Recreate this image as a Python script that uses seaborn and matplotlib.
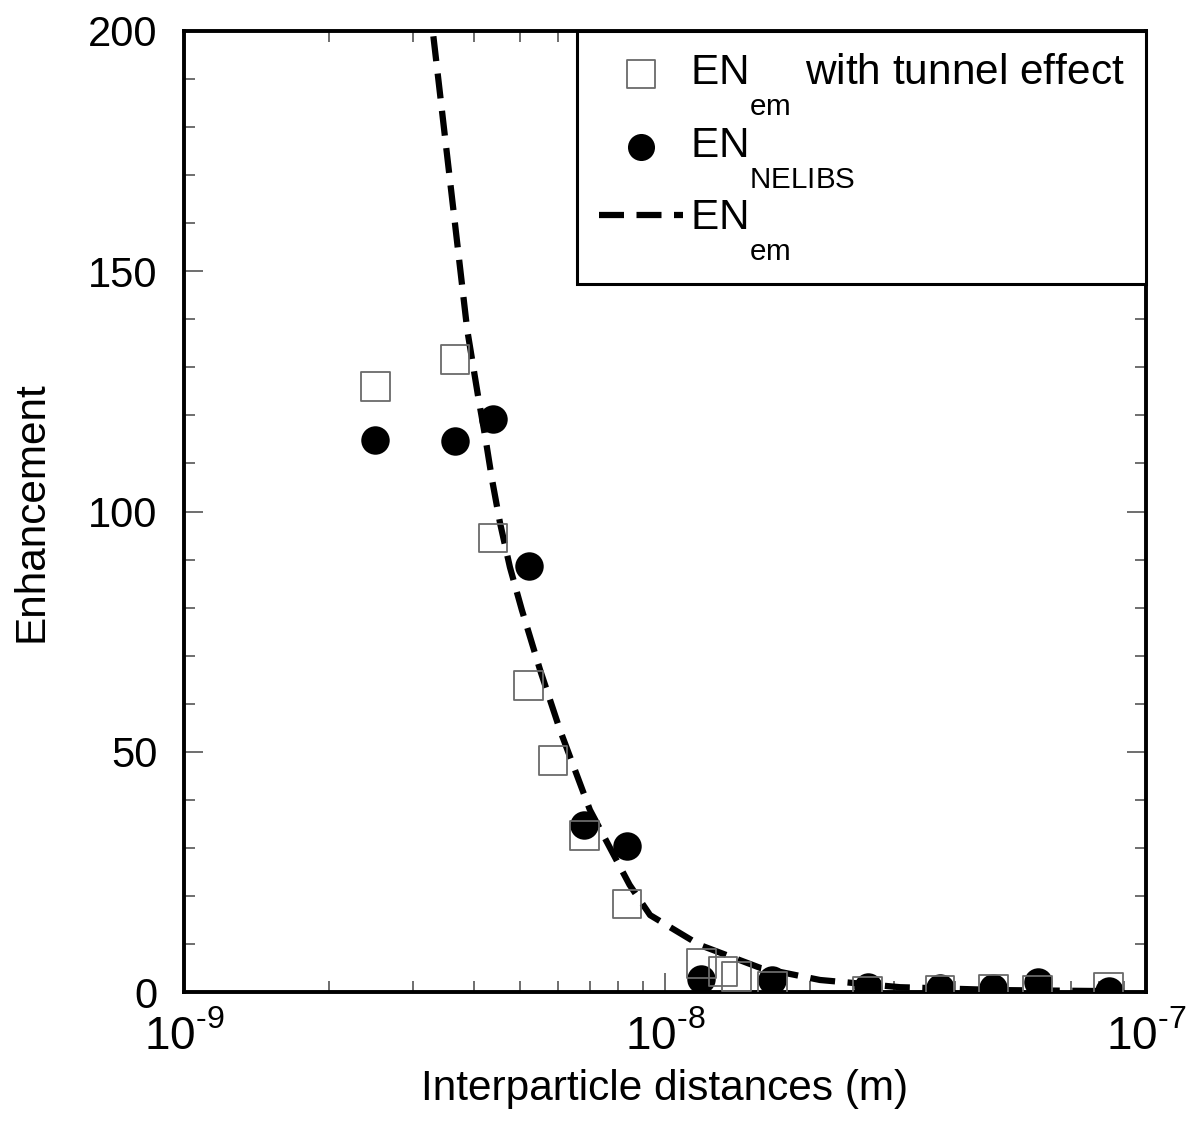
import matplotlib
matplotlib.use("Agg")
import matplotlib.pyplot as plt
import seaborn as sns
import numpy as np
import pandas as pd
from matplotlib.ticker import LogLocator, MultipleLocator, FixedLocator, FixedFormatter, NullFormatter
from matplotlib import _mathtext

# ---- data ----
sq_x = [2.50e-9, 3.66e-9, 4.39e-9, 5.21e-9, 5.85e-9, 6.79e-9, 8.34e-9, 1.19e-8,
        1.32e-8, 1.41e-8, 1.67e-8, 2.64e-8, 3.73e-8, 4.81e-8, 5.96e-8, 8.37e-8]
sq_y = [126.0, 131.7, 94.5, 63.8, 48.1, 32.5, 18.3, 6.0,
        4.2, 3.3, 1.2, 0.2, 0.4, 0.6, 0.4, 1.0]

ci_x = [2.50e-9, 3.66e-9, 4.39e-9, 5.21e-9, 6.79e-9, 8.34e-9, 1.19e-8,
        1.67e-8, 2.64e-8, 3.73e-8, 4.81e-8, 5.96e-8, 8.37e-8]
ci_y = [114.9, 114.7, 119.3, 88.7, 34.8, 30.4, 2.7,
        2.5, 1.0, 0.8, 0.8, 2.1, 0.2]

ln_x = [3.20e-9, 3.29e-9, 3.88e-9, 4.09e-9, 4.23e-9, 4.37e-9, 4.54e-9, 4.76e-9,
        5.04e-9, 5.50e-9, 6.05e-9, 6.98e-9, 8.44e-9, 9.31e-9, 1.18e-8, 1.58e-8,
        2.10e-8, 3.08e-8, 4.97e-8, 8.02e-8, 9.0e-8]
ln_y = [212.0, 200.0, 137.8, 123.8, 115.5, 106.6, 97.6, 88.4,
        79.5, 67.0, 54.5, 37.9, 22.3, 16.0, 9.8, 5.0,
        2.5, 1.0, 0.4, 0.2, 0.15]

x_ticks = [1e-9, 1e-8, 1e-7]
x_ticklabels = [r"$10^{\text{-9}}$", r"$10^{\text{-8}}$", r"$10^{\text{-7}}$"]
y_ticks = [0, 50, 100, 150, 200]

sns.set_theme(style="white")
plt.rcParams['font.family'] = ['Liberation Sans', 'DejaVu Sans']
plt.rcParams['mathtext.fontset'] = 'custom'
plt.rcParams['mathtext.rm'] = 'Liberation Sans'
plt.rcParams['mathtext.it'] = 'Liberation Sans'
plt.rcParams['mathtext.bf'] = 'Liberation Sans'
plt.rcParams['mathtext.sf'] = 'Liberation Sans'
plt.rcParams['axes.unicode_minus'] = False
plt.rcParams['text.color'] = 'black'
plt.rcParams['axes.labelcolor'] = 'black'
plt.rcParams['xtick.color'] = 'black'
plt.rcParams['ytick.color'] = 'black'

# lower subscripts / raise superscripts like the original figure
_mathtext.FontConstantsBase.sub1 = 1.35
_mathtext.FontConstantsBase.sup1 = 0.85
_mathtext.FontConstantsBase.script_space = 0.12

fig = plt.figure(figsize=(11.92, 11.31), dpi=100)
ax = fig.add_axes([184/1192, 1 - 992/1131, (1146-184)/1192, (992-31)/1131])

df_sq = pd.DataFrame({"x": sq_x, "y": sq_y})
df_ci = pd.DataFrame({"x": ci_x, "y": ci_y})
df_ln = pd.DataFrame({"x": ln_x, "y": ln_y})

sns.lineplot(data=df_ln, x="x", y="y", ax=ax, color="black", lw=4.5,
             dashes=False, linestyle=(0, (4.0, 2.0)), sort=False,
             label=r"EN$_{\rm em}$", zorder=2)
sns.scatterplot(data=df_ci, x="x", y="y", ax=ax, marker="o", s=420,
                color="black", edgecolor="black", linewidth=0,
                label=r"EN$_{\rm NELIBS}$", zorder=3)
sns.scatterplot(data=df_sq, x="x", y="y", ax=ax, marker="s", s=430,
                facecolor="none", edgecolor="#6a6a6a", linewidth=1.3,
                label=r"EN$_{\rm em}$ with tunnel effect", zorder=4)

ax.set_xscale("log")
ax.set_xlim(1e-9, 1e-7)
ax.set_ylim(0, 200)

ax.xaxis.set_major_locator(FixedLocator(x_ticks))
ax.xaxis.set_major_formatter(FixedFormatter(x_ticklabels))
ax.xaxis.set_minor_locator(LogLocator(base=10, subs=np.arange(2, 10)))
ax.xaxis.set_minor_formatter(NullFormatter())
ax.yaxis.set_major_locator(FixedLocator(y_ticks))
ax.yaxis.set_minor_locator(MultipleLocator(10))

ax.tick_params(which="both", direction="in", top=True, right=True,
               bottom=True, left=True, color="#555555", width=1.2,
               labelcolor="black")
ax.tick_params(which="major", length=14)
ax.tick_params(which="minor", length=8)
ax.tick_params(axis="x", which="major", pad=15, labelsize=33)
ax.tick_params(axis="y", which="major", pad=19, labelsize=30)

for sp in ax.spines.values():
    sp.set_color("black")
    sp.set_linewidth(2.8)
    sp.set_visible(True)

ax.set_xlabel("Interparticle distances (m)", fontsize=30.5, labelpad=6, color="black")
ax.set_ylabel("Enhancement", fontsize=30.5, labelpad=26, color="black")

handles, labels = ax.get_legend_handles_labels()
order = [2, 1, 0]
leg = ax.legend([handles[i] for i in order], [labels[i] for i in order],
                loc="upper right", borderaxespad=0, fontsize=30.5,
                frameon=True, fancybox=False, edgecolor="black",
                handlelength=2.0, handletextpad=0.16, labelspacing=0.2,
                borderpad=0.5, markerscale=0.95)
leg.get_frame().set_linewidth(2.2)
leg.get_frame().set_alpha(1)

fig.savefig("out.png", dpi=100, facecolor="white")
